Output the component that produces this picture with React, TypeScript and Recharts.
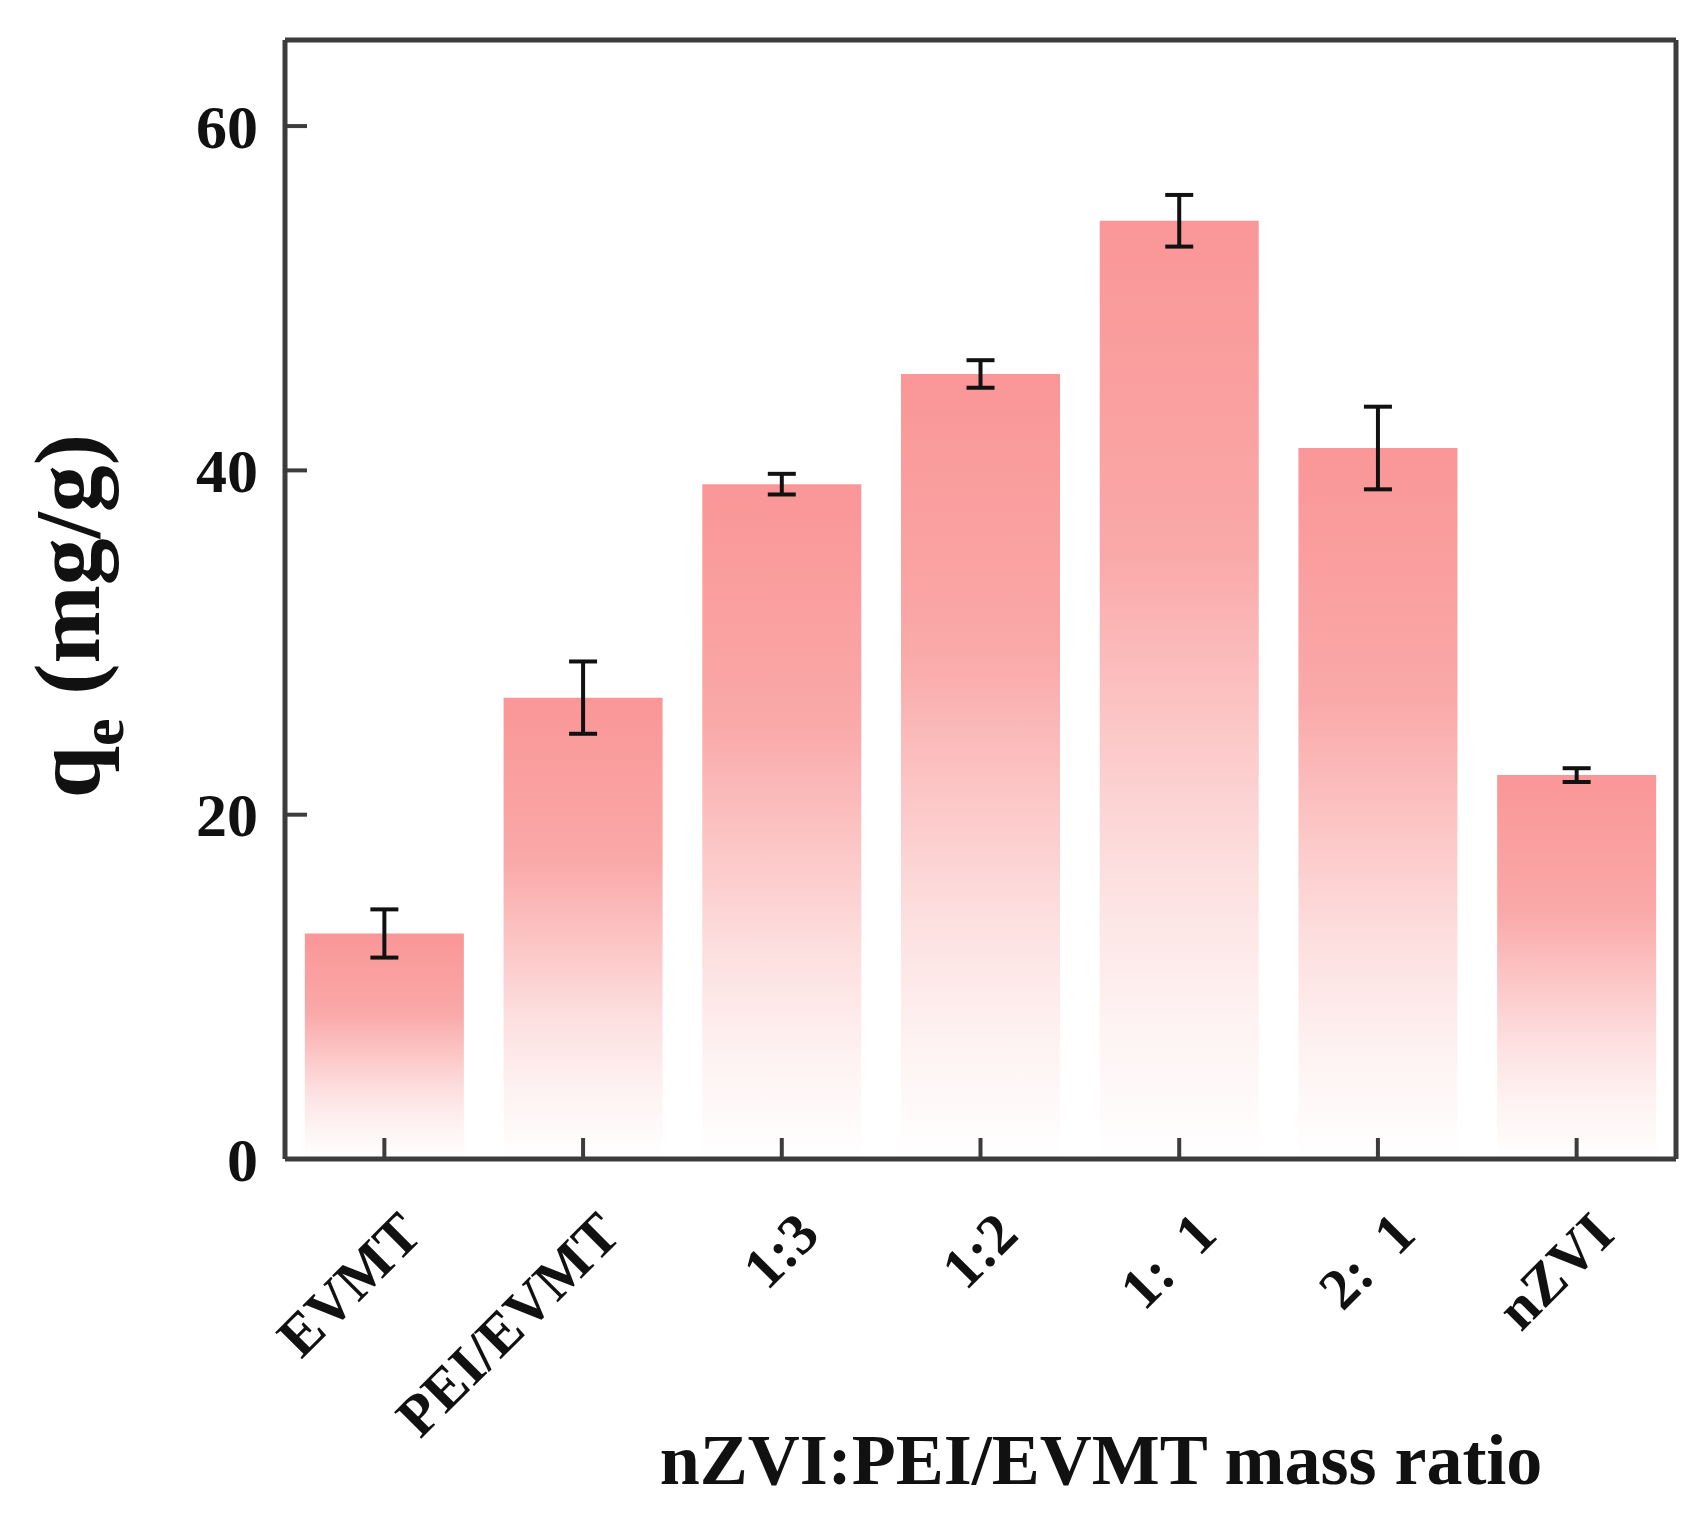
import React from 'react'
import { Bar, BarChart, ErrorBar, ReferenceLine, XAxis, YAxis } from 'recharts'

const categories = ['EVMT', 'PEI/EVMT', '1:3', '1:2', '1:\u00a0\u00a01', '2:\u00a0\u00a01', 'nZVI']
const qeValues = [13.1, 26.8, 39.2, 45.6, 54.5, 41.3, 22.3]
const qeErrors = [1.4, 2.1, 0.6, 0.8, 1.5, 2.4, 0.4]
const yTicks = [0, 20, 40, 60]
const yMax = 65

const data = categories.map((name, i) => ({ name, qe: qeValues[i], err: qeErrors[i] }))

const FONT = '"Liberation Serif", "Times New Roman", serif'
const FRAME = '#3c3c3c'

function YTick({ x, y, payload }: any) {
  return (
    <g>
      <line x1={x} y1={y} x2={x + 22} y2={y} stroke={FRAME} strokeWidth={4} />
      <text x={x - 27} y={y} dy="0.35em" textAnchor="end" fontFamily={FONT} fontWeight="bold" fontSize={62} fill="#111">
        {payload.value}
      </text>
    </g>
  )
}

function XTick({ x, y, payload }: any) {
  const tx = x + 40
  const ty = y + 78
  return (
    <g>
      <line x1={x} y1={y} x2={x} y2={y - 21} stroke={FRAME} strokeWidth={4} />
      <text
        x={tx}
        y={ty}
        textAnchor="end"
        transform={`rotate(-45 ${tx} ${ty})`}
        fontFamily={FONT}
        fontWeight="bold"
        fontSize={58}
        fill="#111"
      >
        {payload.value}
      </text>
    </g>
  )
}

function YTitle() {
  const cx = 99
  const cy = 616
  return (
    <text
      x={cx}
      y={cy}
      textAnchor="middle"
      transform={`rotate(-90 ${cx} ${cy})`}
      fontFamily={FONT}
      fontWeight="bold"
      fontSize={94}
      fill="#111"
    >
      <tspan>q</tspan>
      <tspan dy={24} fontSize={62}>e</tspan>
      <tspan dy={-24}>{'\u00a0(mg/g)'}</tspan>
    </text>
  )
}

function XTitle() {
  return (
    <text x={1101} y={1484} textAnchor="middle" fontFamily={FONT} fontWeight="bold" fontSize={72} fill="#111">
      nZVI:PEI/EVMT mass ratio
    </text>
  )
}

export default function App() {
  return (
    <div style={{ position: 'absolute', left: 0, top: 0, width: 1708, height: 1514, background: '#fff' }}>
      <BarChart
        width={1708}
        height={1514}
        data={data}
        margin={{ top: 40, right: 32, bottom: 0, left: 0 }}
        barCategoryGap="10%"
      >
        <defs>
          <linearGradient id="barFade" x1="0" y1="0" x2="0" y2="1">
            <stop offset="0%" stopColor="#fa9697" />
            <stop offset="35%" stopColor="#faa8a8" />
            <stop offset="55%" stopColor="#fcc8c8" />
            <stop offset="70%" stopColor="#fde0e0" />
            <stop offset="85%" stopColor="#fef2f2" />
            <stop offset="100%" stopColor="#ffffff" />
          </linearGradient>
        </defs>
        <XAxis
          dataKey="name"
          height={355}
          interval={0}
          tickSize={0}
          tickMargin={0}
          tick={<XTick />}
          axisLine={{ stroke: FRAME, strokeWidth: 5 }}
          label={{ content: () => <XTitle /> }}
        />
        <YAxis
          width={285}
          domain={[0, yMax]}
          ticks={yTicks}
          tickSize={0}
          tickMargin={0}
          tick={<YTick />}
          axisLine={{ stroke: FRAME, strokeWidth: 5 }}
          label={{ content: () => <YTitle /> }}
        />
        <Bar dataKey="qe" fill="url(#barFade)" isAnimationActive={false}>
          <ErrorBar dataKey="err" width={14} stroke="#111" strokeWidth={4} isAnimationActive={false} />
        </Bar>
        <ReferenceLine y={yMax} stroke={FRAME} strokeWidth={5} />
        <ReferenceLine x={categories[categories.length - 1]} position="end" stroke={FRAME} strokeWidth={5} />
      </BarChart>
    </div>
  )
}
